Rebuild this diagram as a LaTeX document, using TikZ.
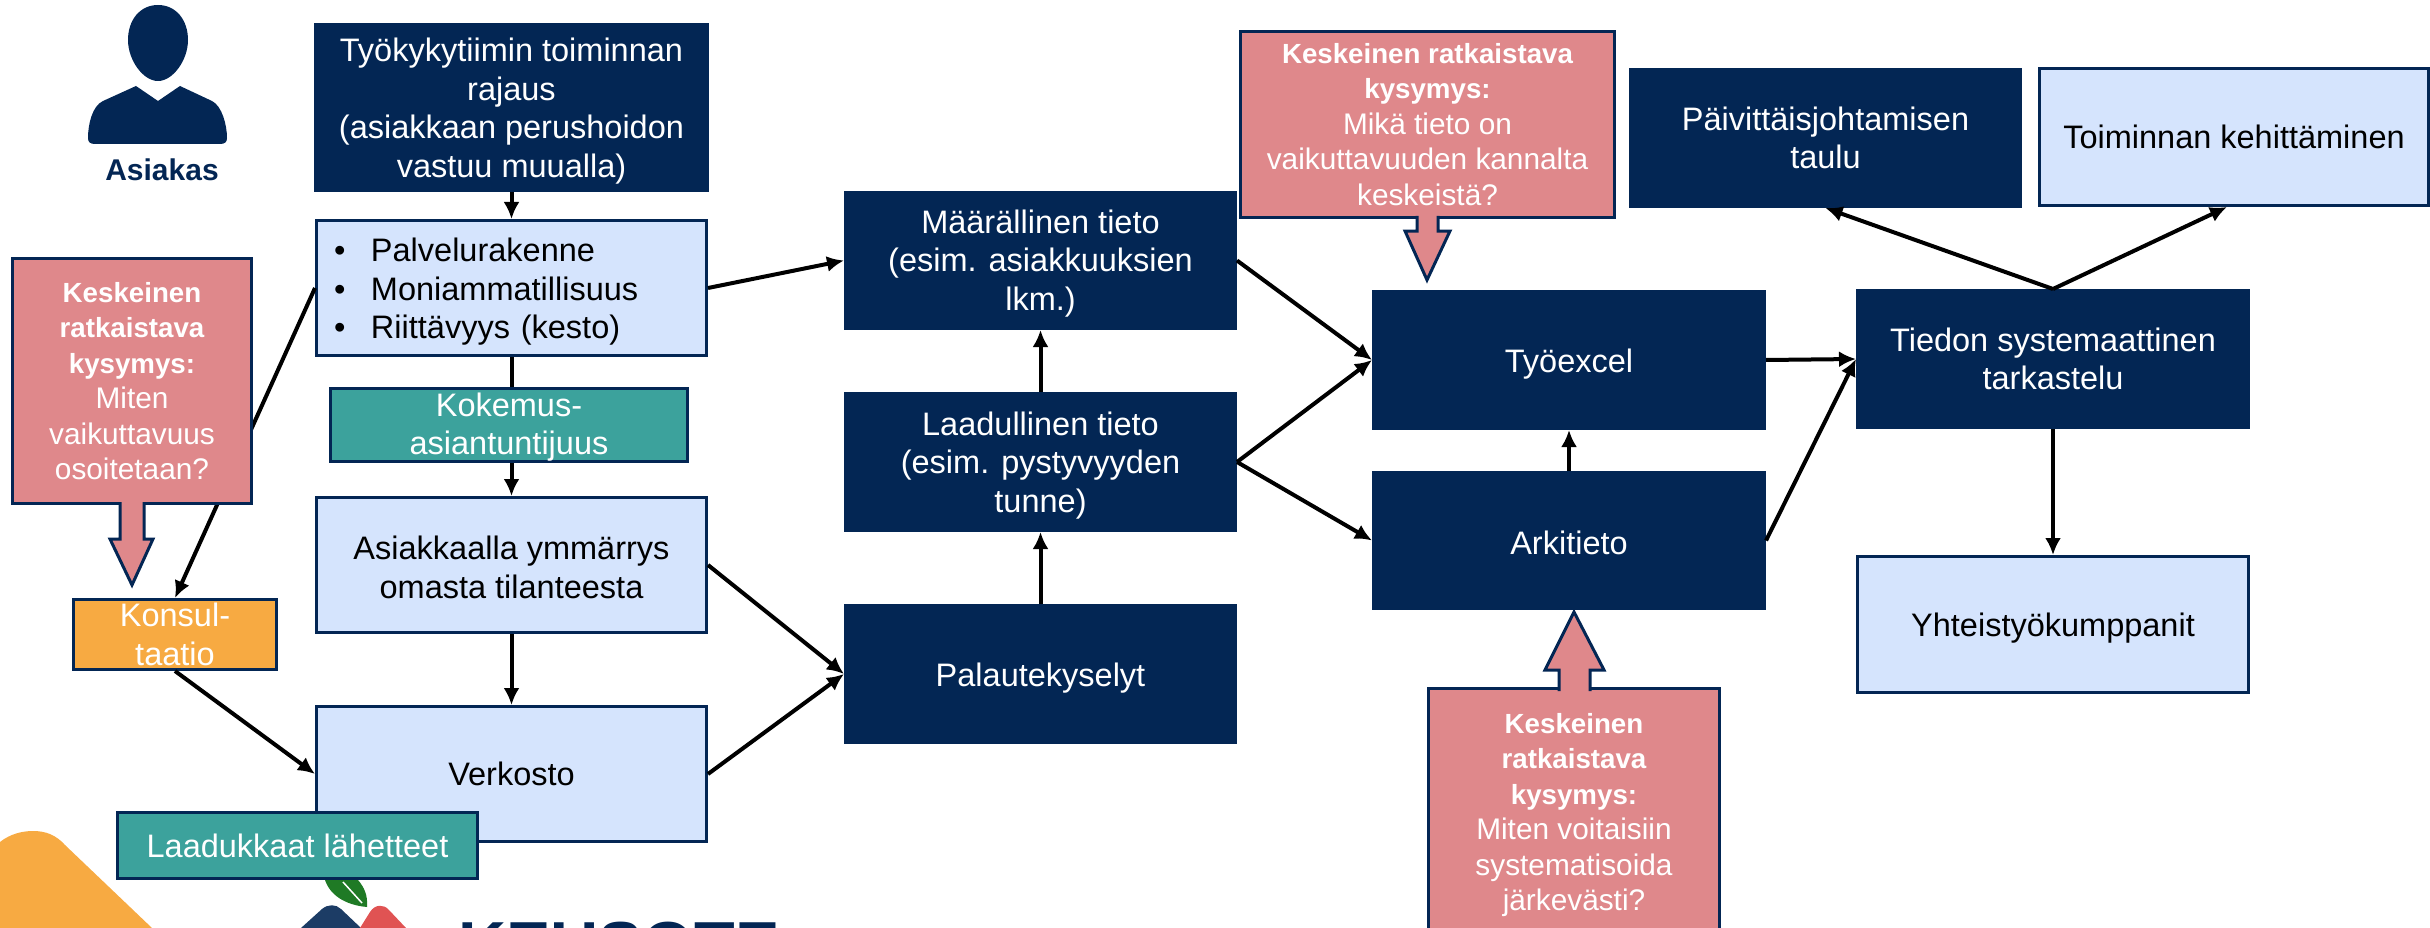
\documentclass[tikz,border=0pt]{standalone}
\usepackage{fontspec}
\setmainfont{Liberation Sans}
\usetikzlibrary{arrows.meta}

\definecolor{navy}{HTML}{032654}
\definecolor{lightblue}{HTML}{D5E4FD}
\definecolor{rose}{HTML}{DF888B}
\definecolor{teal2}{HTML}{3CA29C}
\definecolor{amber}{HTML}{F7AA42}
\definecolor{applered}{HTML}{E05353}
\definecolor{leaf}{HTML}{1F7A25}

\tikzset{
  box/.style={draw=navy, line width=3pt, inner sep=0pt, align=center, font=\fontsize{32.5}{38.5}\selectfont},
  dark/.style={box, fill=navy, text=white},
  light/.style={box, fill=lightblue, text=black},
  tealbox/.style={box, fill=teal2, text=white},
  orangebox/.style={box, fill=amber, text=white},
  question/.style={box, fill=rose, text=white, font=\fontsize{29.8}{35.5}\selectfont},
  callout/.style={draw=navy, line width=3pt, fill=rose, miter limit=10},
  link/.style={line width=4pt, -{Latex[length=17pt,width=16pt]}}
}
\newcommand{\kysymys}[1]{{\fontsize{27.7}{35.5}\bfseries\selectfont #1}}
\newcommand{\luetelma}[1]{\makebox[37pt][l]{•}#1}
\newcommand{\nosto}[1]{\rule{0pt}{#1}}

\begin{document}
\begin{tikzpicture}[x=1pt,y=-1pt]
  \useasboundingbox (0,0) rectangle (2430,928);

  % Logo at the bottom edge
  \fill[amber] (-10,928) -- (-10,852) -- (0,842) .. controls (10,834) and (22,831) .. (33,831)
    .. controls (46,831) and (56,835) .. (65,845) -- (152,928) -- cycle;
  \fill[leaf] (325,880) .. controls (330,895) and (345,905) .. (367,907)
    .. controls (368,895) and (364,887) .. (358,880) -- cycle;
  \draw[white, line width=1.5pt] (343,882) -- (362,903);
  \fill[navy!90!white] (301,928) -- (322,909) .. controls (328,904) and (336,904) .. (341,909) -- (361,928) -- cycle;
  \fill[applered] (360,928) -- (370,912) .. controls (375,904) and (384,904) .. (389,910) -- (406,928) -- cycle;
  \node[inner sep=0pt, anchor=north west, text=navy, font=\fontsize{66.5}{66.5}\bfseries\selectfont] (logotext) at (458,922) {KEUSOTE};

  % Customer figure
  \fill[navy] (158,5) .. controls (140,5) and (128,20) .. (128,40)
    .. controls (128,60) and (143,81) .. (158,81)
    .. controls (173,81) and (188,60) .. (188,40)
    .. controls (188,20) and (176,5) .. (158,5) -- cycle;
  \fill[navy] (136,86) -- (158,101) -- (180,86) -- (212,101)
    .. controls (222,106) and (227,125) .. (227,138)
    .. controls (227,142) and (225,144) .. (220,144) -- (95,144)
    .. controls (90,144) and (88,142) .. (88,138)
    .. controls (88,125) and (92,106) .. (103,101) -- cycle;
  \node[text=navy, inner sep=0pt, font=\fontsize{30}{36}\bfseries\selectfont] (asiakas) at (162,170) {Asiakas};

  % Left column
  \node[dark, minimum width=392pt, minimum height=166pt] (tiimi) at (511.5,107.5)
    {\nosto{31pt}Työkykytiimin toiminnan\\rajaus\\(asiakkaan perushoidon\\vastuu muualla)};
  \node[light, minimum width=390pt, minimum height=135pt, align=left, text width=355pt] (palvelu) at (511.5,288)
    {\nosto{31pt}\luetelma{Palvelurakenne}\\\luetelma{Moniammatillisuus}\\\luetelma{Riittävyys (kesto)}};
  \node[light, minimum width=390pt, minimum height=135pt] (ymmarrys) at (511.5,565)
    {\nosto{28pt}Asiakkaalla ymmärrys\\omasta tilanteesta};
  \node[light, minimum width=390pt, minimum height=135pt] (verkosto) at (511.5,774) {Verkosto};

  \node[orangebox, minimum width=203pt, minimum height=70pt] (konsultaatio) at (175,634.5) {Konsul-\\taatio};
  \draw[link] (palvelu.west) -- (konsultaatio.north);
  \node[question, minimum width=239pt, minimum height=245pt] (kysymys1) at (132,381)
    {\kysymys{Keskeinen}\\\kysymys{ratkaistava}\\\kysymys{kysymys:}\\Miten\\vaikuttavuus\\osoitetaan?};
  \draw[callout] (120,502) -- (120,539) -- (110,539) -- (132,585) -- (153,539) -- (144,539) -- (144,502);

  \draw[link] (tiimi) -- (palvelu);
  \draw[link] (palvelu) -- (ymmarrys);
  \node[tealbox, minimum width=357pt, minimum height=73pt] (kokemus) at (509,425) {\nosto{27.5pt}Kokemus-\\asiantuntijuus};
  \draw[link] (ymmarrys) -- (verkosto);
  \draw[link] (konsultaatio.south) -- (verkosto.west);
  \node[tealbox, minimum width=360pt, minimum height=66pt] (lahetteet) at (297.5,845.5) {Laadukkaat lähetteet};

  % Middle column
  \node[dark, minimum width=390pt, minimum height=136pt] (maara) at (1040.5,260.5)
    {\nosto{29.5pt}Määrällinen tieto\\(esim. asiakkuuksien\\lkm.)};
  \node[dark, minimum width=390pt, minimum height=137pt] (laatu) at (1040.5,462)
    {\nosto{30pt}Laadullinen tieto\\(esim. pystyvyyden\\tunne)};
  \node[dark, minimum width=390pt, minimum height=137pt] (palaute) at (1040.5,674) {\nosto{31pt}Palautekyselyt};

  \draw[link] (palvelu.east) -- (maara.west);
  \draw[link] (ymmarrys.east) -- (palaute.west);
  \draw[link] (verkosto.east) -- (palaute.west);
  \draw[link] (palaute) -- (laatu);
  \draw[link] (laatu) -- (maara);

  % Excel column
  \node[dark, minimum width=391pt, minimum height=137pt] (excel) at (1569,360) {\nosto{31pt}Työexcel};
  \node[dark, minimum width=391pt, minimum height=136pt] (arki) at (1569,540.5) {\nosto{29pt}Arkitieto};

  \draw[link] (maara.east) -- (excel.west);
  \draw[link] (laatu.east) -- (excel.west);
  \draw[link] (laatu.east) -- (arki.west);
  \draw[link] (arki) -- (excel);

  \node[question, minimum width=374pt, minimum height=186pt] (kysymys2) at (1427.5,124.5)
    {\kysymys{Keskeinen ratkaistava}\\\kysymys{kysymys:}\\Mikä tieto on\\vaikuttavuuden kannalta\\keskeistä?};
  \draw[callout] (1417,216) -- (1417,231) -- (1405,231) -- (1427,280) -- (1450,231) -- (1438,231) -- (1438,216);

  \node[question, minimum width=291pt, minimum height=254pt] (kysymys3) at (1574,815)
    {\kysymys{Keskeinen}\\\kysymys{ratkaistava}\\\kysymys{kysymys:}\\Miten voitaisiin\\systematisoida\\järkevästi?};
  \draw[callout] (1559,691) -- (1559,670) -- (1545,670) -- (1574,612) -- (1604,670) -- (1590,670) -- (1590,691);

  % Right column
  \node[dark, minimum width=390pt, minimum height=137pt] (taulu) at (1825.5,138) {Päivittäisjohtamisen\\taulu};
  \node[light, minimum width=389pt, minimum height=137pt] (kehitys) at (2234,137) {Toiminnan kehittäminen};
  \node[dark, minimum width=391pt, minimum height=137pt] (tiedon) at (2053,359) {Tiedon systemaattinen\\tarkastelu};
  \node[light, minimum width=391pt, minimum height=136pt] (kumppanit) at (2053,624.5) {\nosto{31pt}Yhteistyökumppanit};

  \draw[link] (excel.east) -- (tiedon.west);
  \draw[link] (arki.east) -- (tiedon.west);
  \draw[link] (tiedon.north) -- (taulu.south);
  \draw[link] (tiedon.north) -- ([xshift=-7pt]kehitys.south);
  \draw[link] (tiedon) -- (kumppanit);
\end{tikzpicture}
\end{document}
